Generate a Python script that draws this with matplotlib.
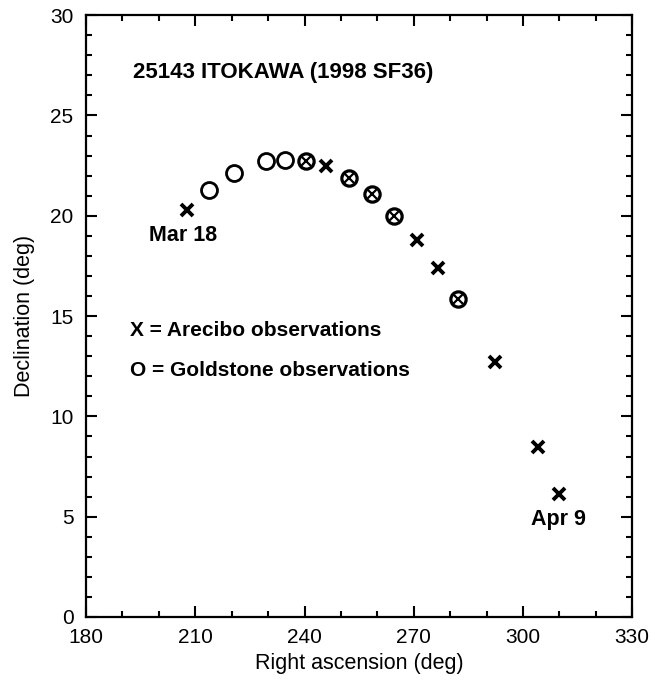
import matplotlib
matplotlib.use("Agg")
import matplotlib.pyplot as plt
from matplotlib.ticker import MultipleLocator
import numpy as np

# Data
ra = [207.8, 213.8, 220.7, 229.5, 234.7, 240.4, 245.9, 252.3, 258.5, 264.6,
      270.9, 276.6, 282.1, 292.3, 304.0, 309.8]
dec = [20.28, 21.28, 22.14, 22.74, 22.77, 22.72, 22.47, 21.89, 21.11, 20.0,
       18.78, 17.40, 15.83, 12.69, 8.49, 6.13]
# A = Arecibo only, G = Goldstone only, B = both
obs = ["A", "G", "G", "G", "G", "B", "A", "B", "B", "B",
       "A", "A", "B", "A", "A", "A"]

title_text = "25143 ITOKAWA (1998 SF36)"
legend_lines = ["X = Arecibo observations", "O = Goldstone observations"]
date_labels = ["Mar 18", "Apr 9"]
x_ticks = [180, 210, 240, 270, 300, 330]
y_ticks = [0, 5, 10, 15, 20, 25, 30]

plt.rcParams['font.family'] = ['Liberation Sans', 'DejaVu Sans']

fig = plt.figure(figsize=(6.62, 6.89), dpi=100)
ax = fig.add_axes([0.130, 0.1045, 0.825, 0.8735])

ra_a = np.array(ra); dec_a = np.array(dec); obs_a = np.array(obs)
m_a = obs_a == "A"
m_g = obs_a == "G"
m_b = obs_a == "B"

ax.plot(ra_a[m_a], dec_a[m_a], linestyle='none', marker='x', markersize=9,
        mew=2.8, color='black')
ax.plot(ra_a[m_g], dec_a[m_g], linestyle='none', marker='o', markersize=11.5,
        mew=2.0, mfc='white', mec='black')
ax.plot(ra_a[m_b], dec_a[m_b], linestyle='none', marker='o', markersize=11,
        mew=2.3, mfc='white', mec='black')
ax.plot(ra_a[m_b], dec_a[m_b], linestyle='none', marker='x', markersize=6.5,
        mew=1.6, color='black')

ax.set_xlim(180, 330)
ax.set_ylim(0, 30)
ax.set_xticks(x_ticks)
ax.set_yticks(y_ticks)
ax.xaxis.set_minor_locator(MultipleLocator(10))
ax.yaxis.set_minor_locator(MultipleLocator(1))
ax.tick_params(which='both', direction='in', top=True, right=True,
               width=1.5, labelsize=15)
ax.tick_params(axis='y', pad=9)
ax.tick_params(axis='x', pad=8)
ax.tick_params(which='major', length=8)
ax.tick_params(which='minor', length=4)
for s in ax.spines.values():
    s.set_linewidth(1.6)

ax.set_xlabel("Right ascension (deg)", fontsize=15.5, labelpad=4)
ax.set_ylabel("Declination (deg)", fontsize=15.5, labelpad=11)

ax.text(192.9, 27.15, title_text, fontsize=16, fontweight='bold',
        va='center', ha='left')
ax.text(192.1, 14.3, legend_lines[0], fontsize=15, fontweight='bold',
        va='center', ha='left')
ax.text(192.1, 12.3, legend_lines[1], fontsize=15, fontweight='bold',
        va='center', ha='left')
ax.text(206.6, 19.0, date_labels[0], fontsize=15.5, fontweight='bold',
        va='center', ha='center')
ax.text(309.7, 4.88, date_labels[1], fontsize=15.5, fontweight='bold',
        va='center', ha='center')

fig.savefig("out.png", dpi=100)
